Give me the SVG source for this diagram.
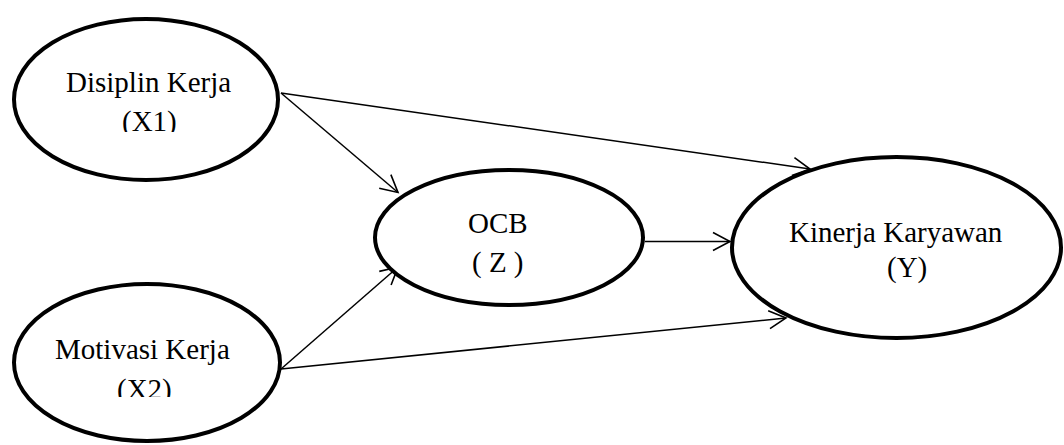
<svg xmlns="http://www.w3.org/2000/svg" width="1064" height="445" viewBox="0 0 1064 445">
  <style>
    .node { fill: #ffffff; stroke: #000000; stroke-width: 4; }
    .lbl { font-family: "Liberation Serif", "Times New Roman", serif; font-size: 29px; fill: #000000; }
    .edge { stroke: #000000; stroke-width: 1.5; fill: none; marker-end: url(#arrow); }
  </style>
  <defs>
    <marker id="arrow" markerUnits="userSpaceOnUse" markerWidth="24" markerHeight="24" viewBox="-20 -12 24 24" refX="0" refY="0" orient="auto">
      <path d="M-17,-9 L0,0 L-17,9" fill="none" stroke="#000000" stroke-width="1.6"/>
    </marker>
    <clipPath id="clipX1"><rect x="0" y="0" width="300" height="132"/></clipPath>
    <clipPath id="clipX2"><rect x="0" y="250" width="300" height="147"/></clipPath>
  </defs>
  <rect width="1064" height="445" fill="#ffffff"/>

  <g id="connectors">
    <line class="edge" x1="281" y1="93" x2="398" y2="192.5"/>
    <line class="edge" x1="281" y1="93" x2="810" y2="169"/>
    <line class="edge" x1="281" y1="369" x2="398" y2="267"/>
    <line class="edge" x1="281" y1="369" x2="786" y2="318"/>
    <line class="edge" x1="645" y1="241.5" x2="730" y2="241.5"/>
  </g>

  <g id="node-x1">
    <ellipse class="node" cx="146" cy="99.5" rx="132" ry="80.5"/>
    <text class="lbl" x="66" y="92">Disiplin Kerja</text>
    <text class="lbl" x="122" y="131" clip-path="url(#clipX1)">(X1)</text>
  </g>

  <g id="node-x2">
    <ellipse class="node" cx="147" cy="362.5" rx="133" ry="78.5"/>
    <text class="lbl" x="55" y="359">Motivasi Kerja</text>
    <text class="lbl" x="117" y="399" clip-path="url(#clipX2)">(X2)</text>
  </g>

  <g id="node-z">
    <ellipse class="node" cx="509" cy="237.5" rx="134" ry="67.5"/>
    <text class="lbl" x="468" y="233">OCB</text>
    <text class="lbl" x="472" y="272">( Z )</text>
  </g>

  <g id="node-y">
    <ellipse class="node" cx="896.5" cy="247.5" rx="164.5" ry="90.5"/>
    <text class="lbl" x="789" y="242">Kinerja Karyawan</text>
    <text class="lbl" x="887" y="277">(Y)</text>
  </g>
</svg>
